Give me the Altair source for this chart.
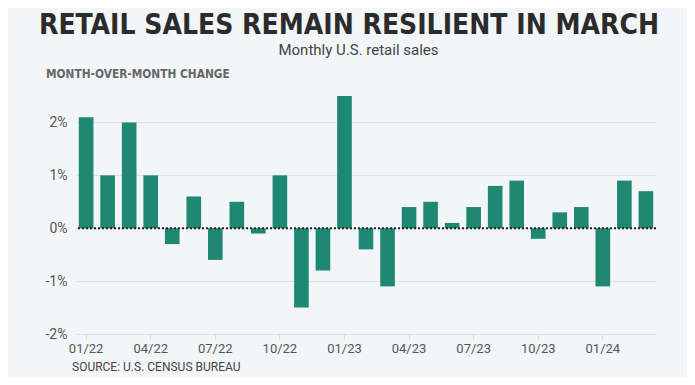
import altair as alt
import pandas as pd

months = ["01/22","02/22","03/22","04/22","05/22","06/22","07/22","08/22","09/22","10/22","11/22","12/22",
          "01/23","02/23","03/23","04/23","05/23","06/23","07/23","08/23","09/23","10/23","11/23","12/23",
          "01/24","02/24","03/24"]
changes = [2.1, 1.0, 2.0, 1.0, -0.3, 0.6, -0.6, 0.5, -0.1, 1.0, -1.5, -0.8,
           2.5, -0.4, -1.1, 0.4, 0.5, 0.1, 0.4, 0.8, 0.9, -0.2, 0.3, 0.4,
           -1.1, 0.9, 0.7]
tick_labels = ["01/22","04/22","07/22","10/22","01/23","04/23","07/23","10/23","01/24"]
y_ticks = [-2, -1, 0, 1, 2]

title = "RETAIL SALES REMAIN RESILIENT IN MARCH"
subtitle = "Monthly U.S. retail sales"
ytitle = "MONTH-OVER-MONTH CHANGE"
source = "SOURCE: U.S. CENSUS BUREAU"

BG = "#f3f6f9"
BAR = "#1f8872"
COND = "DejaVu Sans Condensed, Roboto"
FONT = "Roboto"

df = pd.DataFrame({"month": months, "change": changes})

W, H = 580, 238

bars = alt.Chart(df).mark_bar(color=BAR).encode(
    x=alt.X("month:O", sort=months, title=None,
            scale=alt.Scale(paddingInner=0.32, paddingOuter=0.13),
            axis=alt.Axis(values=tick_labels, labelAngle=0, labelFont=FONT, labelFontSize=13,
                          labelColor="#555", labelPadding=3, domain=False, ticks=True,
                          tickColor="#d9dde2", tickSize=5, grid=False)),
    y=alt.Y("change:Q", title=None,
            scale=alt.Scale(domain=[-2, 2.5], nice=False),
            axis=alt.Axis(values=y_ticks, labelExpr="datum.value + '%'",
                          labelFont=FONT, labelFontSize=14, labelColor="#555",
                          domain=False, ticks=False, labelPadding=9,
                          grid=True, gridColor="#dde1e6", gridWidth=1))
)

zero = alt.Chart(pd.DataFrame({"z": [0]})).mark_rule(
    color="#222", strokeDash=[2, 2], strokeWidth=2
).encode(y="z:Q")

def txt(label, x, y, size, weight="normal", color="#333", align="left", font=FONT):
    return alt.Chart(pd.DataFrame({"t": [label]})).mark_text(
        font=font, fontSize=size, fontWeight=weight, color=color, align=align,
        baseline="alphabetic"
    ).encode(text="t:N", x=alt.value(x), y=alt.value(y))

t1 = txt(title, 273, -62, 28, "bold", "#2b2b2b", "center", COND)
t2 = txt(subtitle, 282.5, -41, 15, "normal", "#444", "center", FONT)
t3 = txt(ytitle, -30, -18, 11.8, "bold", "#666", "left", COND)
t4 = txt(source, -4, 275, 12, "normal", "#444", "left", FONT)

chart = alt.layer(bars, zero, t1, t2, t3, t4).properties(
    width=W, height=H, background=BG,
    padding={"left": 68, "top": 88, "right": 31, "bottom": 43},
    autosize=alt.AutoSizeParams(type="none")
).configure_view(stroke=None)

chart.save("out.html", embed_options={"renderer": "svg", "actions": False})
